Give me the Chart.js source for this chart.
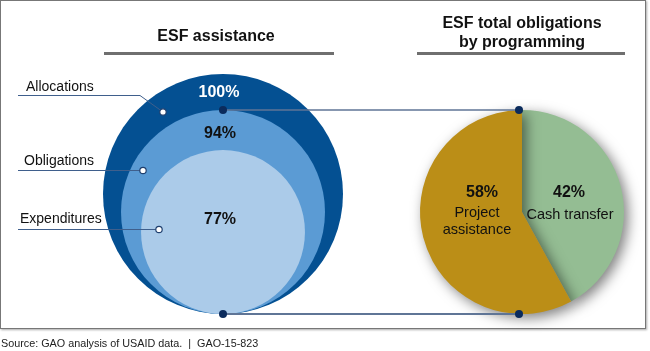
<!DOCTYPE html>
<html>
<head>
<meta charset="utf-8">
<script src="https://cdn.jsdelivr.net/npm/chart.js@4.4.1/dist/chart.umd.min.js"></script>
<style>
  html, body { margin: 0; padding: 0; background: #fff; }
  body { width: 650px; height: 351px; position: relative; overflow: hidden;
         font-family: "Liberation Sans", Arial, sans-serif; color: #111; }
  .frame { position: absolute; left: 0; top: 0; width: 644px; height: 327px;
           border: 1px solid #777; box-shadow: 1px 1px 2px #aaa; }
  canvas { position: absolute; left: 0; top: 0; }
  #circles { left: -120px; top: -120px; }
  .txt { position: absolute; white-space: nowrap; line-height: 1; }
  .title { font-weight: bold; font-size: 16px; text-align: center; transform: translateX(-50%); }
  .bar { position: absolute; height: 3px; background: #6f6f6f; }
  .lbl { font-size: 14px; }
  .pct { font-weight: bold; font-size: 16px; transform: translate(-50%, -50%); }
  .ctr { font-size: 14.5px; transform: translate(-50%, -50%); }
  .src { font-size: 10.8px; color: #222; }
</style>
</head>
<body>
<div class="frame"></div>
<!-- bubble canvas is larger than the page and shifted up-left by 120px,
     so Chart.js's own bubble overflow padding doesn't squeeze the plot area -->
<canvas id="circles" width="890" height="591"></canvas>
<canvas id="programming" width="650" height="351"></canvas>

<div class="txt title" style="left:216px; top:28px;">ESF assistance</div>
<div class="bar" style="left:104px; top:52px; width:230px;"></div>
<div class="txt title" style="left:522px; top:13px; line-height:19px;">ESF total obligations<br>by programming</div>
<div class="bar" style="left:417px; top:52px; width:208px;"></div>

<div id="stageText"></div>
<div id="pieText"></div>

<div class="txt src" style="left:1px; top:338px;">Source: GAO analysis of USAID data.&nbsp; |&nbsp; GAO-15-823</div>

<script>
// ESF assistance stages (share of allocations)
const stageLabels = ['Allocations', 'Obligations', 'Expenditures'];
const stageShares = [100, 94, 77];

// ESF total obligations by programming
const programLabels = ['Cash transfer', 'Project assistance'];
const programShares = [42, 58];

// drawing styles (not data)
const outerRadiusPx = 120;
const canvasShift = 120;                      // offset of the bubble canvas
const circleScale = [1, 0.85, 0.683];          // circle size relative to the outer one
const circleColors = ['#045092', '#5b9bd4', '#abcbe9'];
const pieColors = ['#94bd93', '#bb8e17'];
const lineColor = '#5f7596';
const dotColor = '#0b2b5c';

// label placement on the page
const stageLabelPos = [[26, 79], [24, 153], [20, 211]];
const stagePctPos = [[219, 92], [220, 133], [220, 219]];
const pctColors = ['#fff', '#111', '#111'];
const leaders = [
    [[18, 95.5], [140, 95.5], [163, 112]],
    [[18, 170.5], [143, 170.5]],
    [[18, 229.5], [159, 229.5]]
];

// text for the left side
let html = '';
stageLabels.forEach((name, i) => {
    html += `<div class="txt lbl" style="left:${stageLabelPos[i][0]}px; top:${stageLabelPos[i][1]}px;">${name}</div>`;
    html += `<div class="txt pct" style="left:${stagePctPos[i][0]}px; top:${stagePctPos[i][1]}px; color:${pctColors[i]};">${stageShares[i]}%</div>`;
});
document.getElementById('stageText').innerHTML = html;

// text for the pie
document.getElementById('pieText').innerHTML = `
    <div class="txt pct" style="left:482px; top:192px;">${programShares[1]}%</div>
    <div class="txt ctr" style="left:477px; top:212px;">Project</div>
    <div class="txt ctr" style="left:477px; top:229px;">assistance</div>
    <div class="txt pct" style="left:569px; top:192px;">${programShares[0]}%</div>
    <div class="txt ctr" style="left:570px; top:214px;">${programLabels[0]}</div>
`;

// circles sit on a common baseline: centre height equals their radius
const areaLeft = 103 + canvasShift;
const areaTop = 74 + canvasShift;
const circleChart = new Chart(document.getElementById('circles'), {
    type: 'bubble',
    data: {
        datasets: [{
            data: stageShares.map((v, i) => ({ x: 0, y: circleScale[i], r: circleScale[i] * outerRadiusPx, v: v })),
            backgroundColor: circleColors,
            borderWidth: 0,
            clip: false
        }]
    },
    options: {
        responsive: false,
        animation: false,
        events: [],
        layout: {
            padding: {
                left: areaLeft,
                right: 890 - areaLeft - 2 * outerRadiusPx,
                top: areaTop,
                bottom: 591 - areaTop - 2 * outerRadiusPx
            }
        },
        scales: {
            x: { display: false, min: -1, max: 1 },
            y: { display: false, min: 0, max: 2 }
        },
        plugins: { legend: { display: false }, tooltip: { enabled: false } }
    }
});

const pieShadow = {
    id: 'pieShadow',
    beforeDatasetsDraw(chart) {
        const ctx = chart.ctx;
        ctx.save();
        ctx.shadowColor = 'rgba(0,0,0,0.5)';
        ctx.shadowBlur = 13;
        ctx.shadowOffsetX = 4;
        ctx.shadowOffsetY = 4;
    },
    afterDatasetsDraw(chart) {
        chart.ctx.restore();
    }
};

function dot(ctx, x, y, r, fill, stroke) {
    ctx.beginPath();
    ctx.arc(x, y, r, 0, Math.PI * 2);
    ctx.fillStyle = fill;
    ctx.fill();
    if (stroke) {
        ctx.lineWidth = 1.2;
        ctx.strokeStyle = stroke;
        ctx.stroke();
    }
}

const connectors = {
    id: 'connectors',
    afterDraw(chart) {
        const ctx = chart.ctx;
        const mid = circleChart.getDatasetMeta(0).data[1];
        const midR = mid.options.radius;
        const arc = chart.getDatasetMeta(0).data[0];
        const px = arc.x - 3;
        const cx = mid.x - canvasShift;
        const cy = mid.y - canvasShift;
        const top = [cx, cy - midR];
        const bottom = [cx, cy + midR];

        ctx.save();
        ctx.strokeStyle = lineColor;
        ctx.lineWidth = 1.3;
        ctx.beginPath();
        ctx.moveTo(top[0], top[1]);
        ctx.lineTo(px, arc.y - arc.outerRadius);
        ctx.stroke();
        ctx.lineWidth = 2;
        ctx.beginPath();
        ctx.moveTo(bottom[0], bottom[1]);
        ctx.lineTo(px, arc.y + arc.outerRadius);
        ctx.stroke();
        dot(ctx, top[0], top[1], 4, dotColor);
        dot(ctx, bottom[0], bottom[1], 4, dotColor);
        dot(ctx, px, arc.y - arc.outerRadius, 4, dotColor);
        dot(ctx, px, arc.y + arc.outerRadius, 4, dotColor);

        // leader lines for the stage labels
        leaders.forEach(pts => {
            ctx.strokeStyle = '#3f5f8c';
            ctx.lineWidth = 1;
            ctx.beginPath();
            pts.forEach((p, j) => j ? ctx.lineTo(p[0], p[1]) : ctx.moveTo(p[0], p[1]));
            ctx.stroke();
            const end = pts[pts.length - 1];
            dot(ctx, end[0], end[1], 3.2, '#fff', '#1f3f6e');
        });
        ctx.restore();
    }
};

new Chart(document.getElementById('programming'), {
    type: 'pie',
    data: {
        labels: programLabels,
        datasets: [{
            data: programShares,
            backgroundColor: pieColors,
            borderWidth: 0
        }]
    },
    options: {
        responsive: false,
        animation: false,
        events: [],
        layout: { padding: { left: 420, right: 26, top: 110, bottom: 37 } },
        plugins: { legend: { display: false }, tooltip: { enabled: false } }
    },
    plugins: [pieShadow, connectors]
});
</script>
</body>
</html>
